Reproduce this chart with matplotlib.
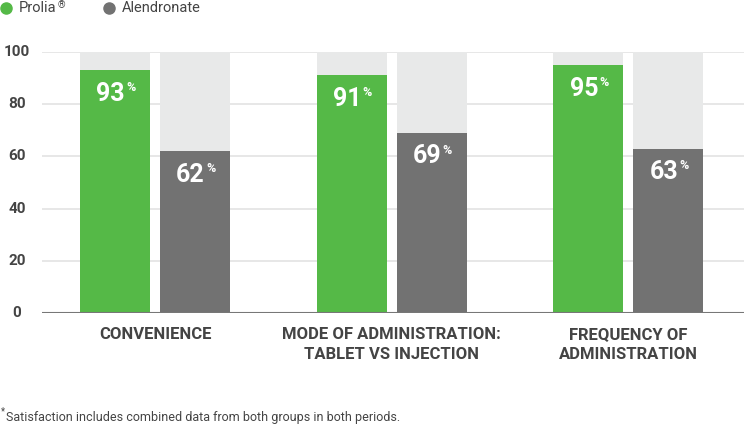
import matplotlib
matplotlib.use("Agg")
import matplotlib.pyplot as plt
import numpy as np

plt.rcParams['font.family'] = ['Roboto', 'DejaVu Sans']

categories = ["CONVENIENCE", "MODE OF ADMINISTRATION:\nTABLET VS INJECTION", "FREQUENCY OF\nADMINISTRATION"]
prolia = [93, 91, 95]
alendronate = [62, 69, 63]
yticks = [0, 20, 40, 60, 80, 100]

green = "#55b947"
grey = "#727272"
track = "#e8e9e9"
txt = "#444444"

fig = plt.figure(figsize=(7.44, 4.25), dpi=100)
ax = fig.add_axes([42 / 744, 1 - 313 / 425, 1 - 42 / 744, 261 / 425])

x = np.arange(len(categories))
w = 0.296
off = 0.169

# background tracks up to 100
ax.bar(x - off, 100, w, color=track, zorder=1)
ax.bar(x + off, 100, w, color=track, zorder=1)
ax.bar(x - off, prolia, w, color=green, zorder=2)
ax.bar(x + off, alendronate, w, color=grey, zorder=2)


def value_label(xc, v):
    ax.text(xc + 0.042, v - 9, str(v), ha='right', va='center', color='white',
            fontsize=18, fontweight='bold', zorder=3)
    ax.text(xc + 0.046, v - 6.6, "%", ha='left', va='center', color='white',
            fontsize=9, fontweight='bold', zorder=3)


for xi, v in zip(x - off, prolia):
    value_label(xi, v)
for xi, v in zip(x + off, alendronate):
    value_label(xi, v)

ax.set_xlim(-0.478, 2.49)
ax.set_ylim(0, 100)
ax.set_yticks(yticks)
ax.set_yticklabels([])
for t in yticks[1:]:
    ax.axhline(t, color="#e3e3e3", lw=1.2, zorder=0)
ax.axhline(0, color="#777777", lw=1.5, zorder=4)
for t in yticks:
    ax.text(-25 / 702, t, str(t), transform=ax.get_yaxis_transform(),
            ha='center', va='center', fontsize=11, fontweight='bold', color=txt)

ax.set_xticks([])
for s in ax.spines.values():
    s.set_visible(False)
ax.tick_params(left=False, bottom=False)

for xi, c in zip(x, categories):
    ax.text(xi, -5.5, c, ha='center', va='top', fontsize=12, fontweight='bold',
            color=txt, linespacing=1.35)

# legend
ly = 1 - 8 / 425
fig.add_artist(plt.Line2D([6 / 744], [ly], marker='o', markersize=8, color=green,
                          linestyle='none', transform=fig.transFigure))
fig.add_artist(plt.Line2D([109 / 744], [ly], marker='o', markersize=8, color=grey,
                          linestyle='none', transform=fig.transFigure))
fig.text(19 / 744, ly, "Prolia", color=txt, fontsize=10.5, ha='left', va='center')
fig.text(58 / 744, 1 - 5 / 425, "\u00AE", color=txt, fontsize=7, ha='left', va='center')
fig.text(122 / 744, ly, "Alendronate", color=txt, fontsize=10.5, ha='left', va='center')

# footnote
fig.text(1 / 744, 1 - 411 / 425, "*", color=txt, fontsize=7, ha='left', va='center')
fig.text(6 / 744, 1 - 417 / 425, "Satisfaction includes combined data from both groups in both periods.",
         color=txt, fontsize=9, ha='left', va='center')

fig.savefig("out.png", dpi=100)
